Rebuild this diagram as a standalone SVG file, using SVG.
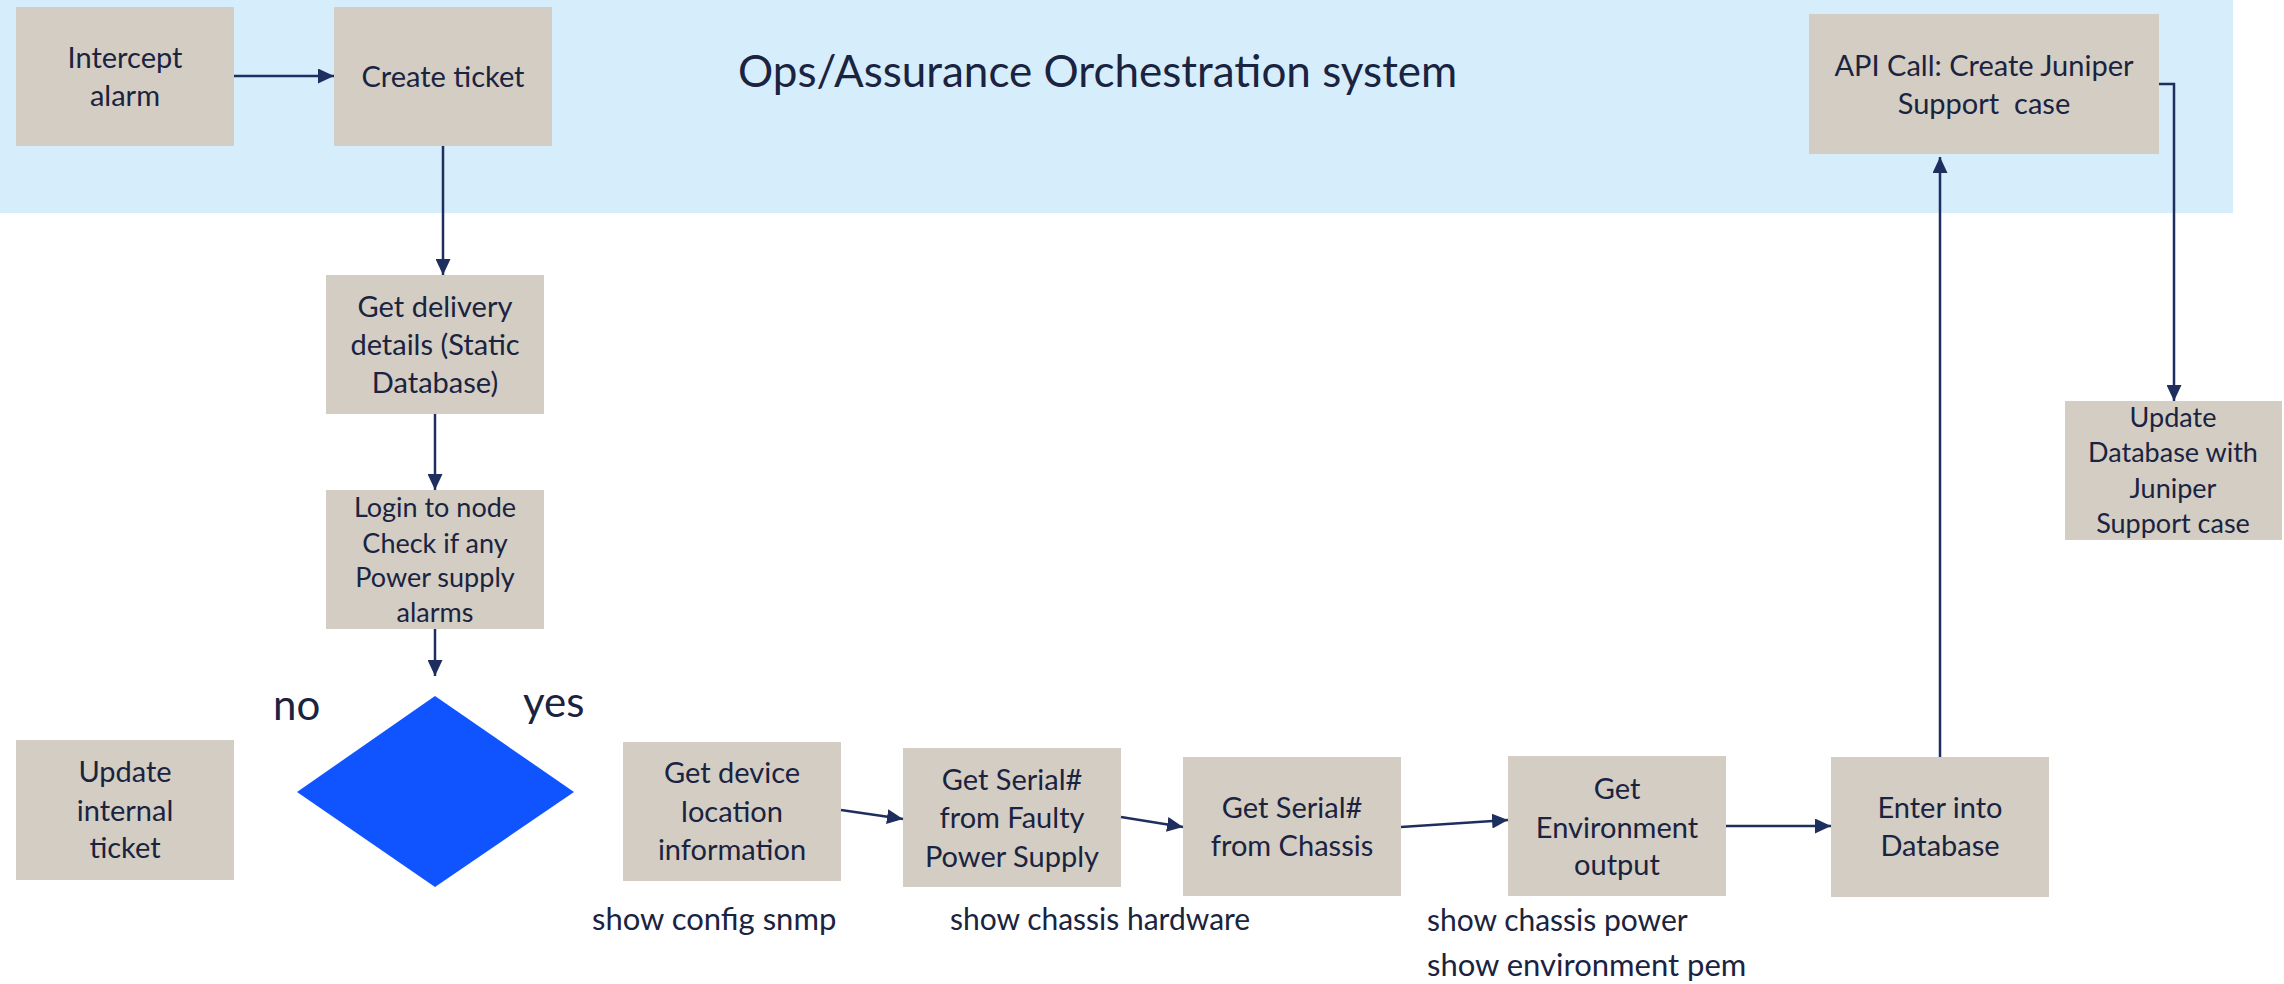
<svg xmlns="http://www.w3.org/2000/svg" width="2284" height="984" viewBox="0 0 2284 984">
<style>
.box{fill:#D3CDC3}
.t{font-family:Lato,"Liberation Sans",sans-serif;font-size:29px;fill:#1A2340;text-anchor:middle}
.s{font-size:27px}
.lbl{font-family:Lato,"Liberation Sans",sans-serif;font-size:30px;fill:#1A2340}
.con{fill:none;stroke:#1E2F5F;stroke-width:2.5}
</style>
<defs>
<marker id="ah" markerUnits="userSpaceOnUse" markerWidth="16" markerHeight="15" refX="16" refY="7.5" orient="auto">
<path d="M0,0 L16,7.5 L0,15 z" fill="#1E2F5F"/>
</marker>
</defs>
<rect x="0" y="0" width="2233" height="213" fill="#D6EDFB"/>
<text class="lbl" x="738" y="87" style="font-size:44px">Ops/Assurance Orchestration system</text>

<g id="intercept"><rect class="box" x="16" y="7" width="218" height="139"/>
<text class="t" x="125" y="68">Intercept</text><text class="t" x="125" y="106">alarm</text></g>
<g id="create"><rect class="box" x="334" y="7" width="218" height="139"/>
<text class="t" x="443" y="87">Create ticket</text></g>
<g id="api"><rect class="box" x="1809" y="14" width="350" height="140"/>
<text class="t" x="1984" y="76">API Call: Create Juniper</text><text class="t" x="1984" y="114" xml:space="preserve">Support  case</text></g>
<g id="delivery"><rect class="box" x="326" y="275" width="218" height="139"/>
<text class="t" x="435" y="317">Get delivery</text><text class="t" x="435" y="355">details (Static</text><text class="t" x="435" y="393">Database)</text></g>
<g id="login"><rect class="box" x="326" y="490" width="218" height="139"/>
<text class="t s" x="435" y="517">Login to node</text><text class="t s" x="435" y="553">Check if any</text><text class="t s" x="435" y="587">Power supply</text><text class="t s" x="435" y="622">alarms</text></g>
<g id="decision"><polygon points="435,696 574,792 435,887 297,792" fill="#1054FF"/>
<text class="lbl" x="273" y="720" style="font-size:42px">no</text><text class="lbl" x="523" y="717" style="font-size:42px">yes</text></g>
<g id="update-internal"><rect class="box" x="16" y="740" width="218" height="140"/>
<text class="t" x="125" y="782">Update</text><text class="t" x="125" y="821">internal</text><text class="t" x="125" y="858">ticket</text></g>
<g id="device"><rect class="box" x="623" y="742" width="218" height="139"/>
<text class="t" x="732" y="783">Get device</text><text class="t" x="732" y="822">location</text><text class="t" x="732" y="860">information</text></g>
<g id="faulty"><rect class="box" x="903" y="748" width="218" height="139"/>
<text class="t" x="1012" y="790">Get Serial#</text><text class="t" x="1012" y="828">from Faulty</text><text class="t" x="1012" y="867">Power Supply</text></g>
<g id="chassis"><rect class="box" x="1183" y="757" width="218" height="139"/>
<text class="t" x="1292" y="818">Get Serial#</text><text class="t" x="1292" y="856">from Chassis</text></g>
<g id="env"><rect class="box" x="1508" y="756" width="218" height="140"/>
<text class="t" x="1617" y="799">Get</text><text class="t" x="1617" y="838">Environment</text><text class="t" x="1617" y="875">output</text></g>
<g id="enterdb"><rect class="box" x="1831" y="757" width="218" height="140"/>
<text class="t" x="1940" y="818">Enter into</text><text class="t" x="1940" y="856">Database</text></g>
<g id="updatedb"><rect class="box" x="2065" y="401" width="217" height="139"/>
<text class="t s" x="2173" y="427">Update</text><text class="t s" x="2173" y="462">Database with</text><text class="t s" x="2173" y="498">Juniper</text><text class="t s" x="2173" y="533">Support case</text></g>

<g id="labels">
<text class="lbl" x="592" y="930" style="font-size:31px">show config snmp</text>
<text class="lbl" x="950" y="930">show chassis hardware</text>
<text class="lbl" x="1427" y="931">show chassis power</text>
<text class="lbl" x="1427" y="976" style="font-size:31px">show environment pem</text>
</g>

<g id="connectors">
<path class="con" d="M234,76 L334,76" marker-end="url(#ah)"/>
<path class="con" d="M443,146 L443,275" marker-end="url(#ah)"/>
<path class="con" d="M435,414 L435,490" marker-end="url(#ah)"/>
<path class="con" d="M435,629 L435,676" marker-end="url(#ah)"/>
<path class="con" d="M841,810 L903,819" marker-end="url(#ah)"/>
<path class="con" d="M1121,817 L1183,827" marker-end="url(#ah)"/>
<path class="con" d="M1401,827 L1508,820" marker-end="url(#ah)"/>
<path class="con" d="M1726,826 L1831,826" marker-end="url(#ah)"/>
<path class="con" d="M1940,757 L1940,157" marker-end="url(#ah)"/>
<path class="con" d="M2159,84 L2174,84 L2174,401" marker-end="url(#ah)"/>
</g>
</svg>
